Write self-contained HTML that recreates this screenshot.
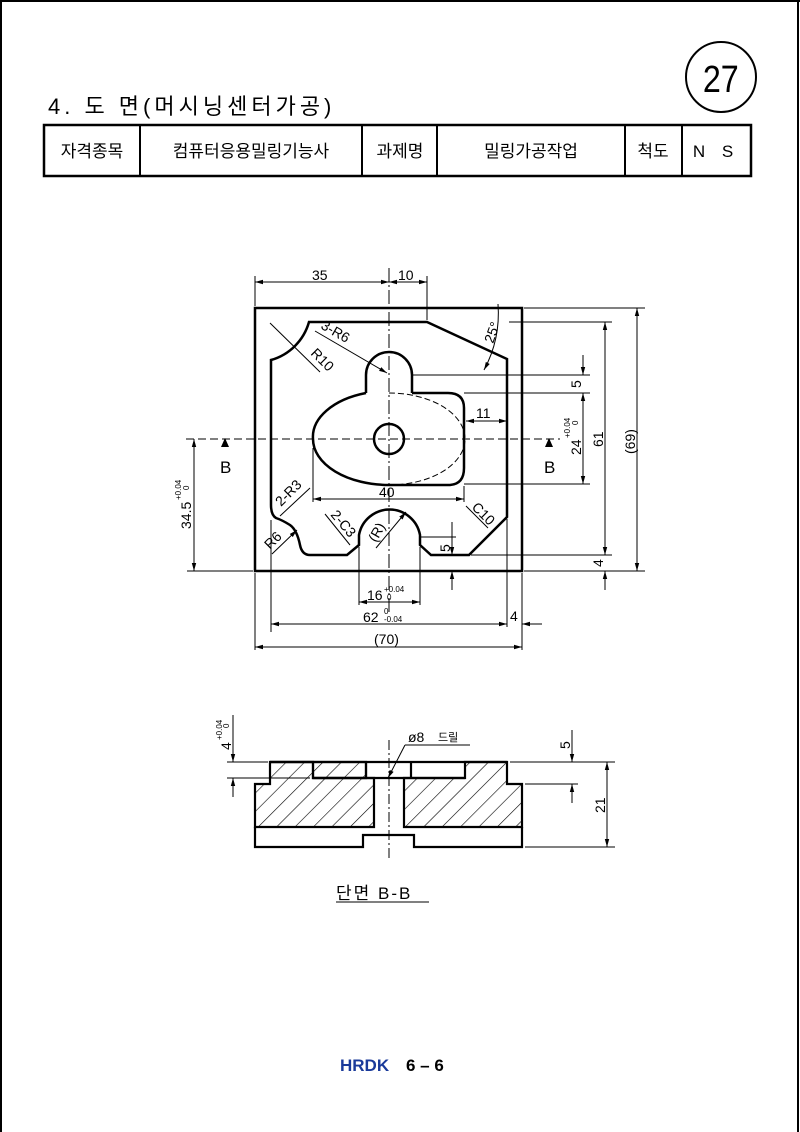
<!DOCTYPE html>
<html><head><meta charset="utf-8"><style>
html,body{margin:0;padding:0;background:#fff}
svg{display:block}
text{font-family:"Liberation Sans","Noto Sans CJK KR",sans-serif;fill:#000}
</style></head><body>
<svg width="800" height="1132" viewBox="0 0 800 1132" xmlns="http://www.w3.org/2000/svg">
<defs>
<pattern id="h" width="13" height="13" patternUnits="userSpaceOnUse" patternTransform="rotate(45)">
<line x1="0" y1="0" x2="0" y2="13" stroke="#000" stroke-width="1.2"/>
</pattern>
<marker id="a" markerWidth="8" markerHeight="6" refX="8" refY="3" orient="auto-start-reverse" markerUnits="userSpaceOnUse"><path d="M0,0.8 L8,3 L0,5.2z" fill="#000"/></marker>
</defs>
<line x1="1" y1="0" x2="1" y2="1132" stroke="#000" stroke-width="2"/>
<line x1="798" y1="0" x2="798" y2="1132" stroke="#000" stroke-width="2"/>
<line x1="0" y1="1" x2="800" y2="1" stroke="#000" stroke-width="2"/>

<circle cx="721" cy="77" r="35" fill="none" stroke="#000" stroke-width="2"/>
<text x="721" y="92" font-size="38" text-anchor="middle" transform="scale(0.85,1) translate(127,0)">27</text>
<text x="48" y="114" font-size="22" letter-spacing="4">4. 도 면(머시닝센터가공)</text>
<rect x="44" y="125" width="707" height="51" fill="none" stroke="#000" stroke-width="2.5"/>
<g stroke="#000" stroke-width="2"><line x1="140" y1="125" x2="140" y2="176"/><line x1="362" y1="125" x2="362" y2="176"/><line x1="437" y1="125" x2="437" y2="176"/><line x1="625" y1="125" x2="625" y2="176"/><line x1="682" y1="125" x2="682" y2="176"/></g>
<g font-size="17" text-anchor="middle">
<text x="92" y="157">자격종목</text><text x="251" y="157">컴퓨터응용밀링기능사</text><text x="400" y="157">과제명</text><text x="531" y="157">밀링가공작업</text><text x="653" y="157">척도</text><text x="716" y="157" letter-spacing="6">N S</text>
</g>

<g fill="none" stroke="#000">
<rect x="255" y="308" width="267" height="263" stroke-width="2.5"/>
<path d="M271,360 A55,55 0 0 0 309,322 L427,322 L507,359 L507,517 L469,555 L431,555 L420,545 L420,535 A31,31 0 0 0 359,535 L359,545 L347,555 L310,555 Q302,555 300,545 Q297,530 290,525 Q282,520 276,518 Q271,515 271,505 Z" stroke-width="2.5"/>
<path d="M412,393 L412,375 A23,23 0 0 0 366,375 L366,393" stroke-width="2.5"/>
<path d="M366,393 A76,46 0 0 0 313,439 A76,46 0 0 0 389,485 L450,485 Q464,484 464,468 L464,408 Q464,393 448,393 L412,393" stroke-width="2.5"/>
<path d="M389,393 A76,46 0 0 1 465,439 A76,46 0 0 1 389,485" stroke-width="1" stroke-dasharray="6,3"/>
<circle cx="389" cy="439" r="15" stroke-width="2.5"/>
<line x1="389" y1="268" x2="389" y2="612" stroke-width="1" stroke-dasharray="14,3,2,3"/>
<line x1="186" y1="439" x2="560" y2="439" stroke-width="1" stroke-dasharray="8,4"/>
</g>
<g stroke="#000" stroke-width="1.2"><line x1="225" y1="439" x2="225" y2="447"/><line x1="549" y1="439" x2="549" y2="447"/></g>
<path d="M221,447 L229,447 L225,438z M545,447 L553,447 L549,438z" fill="#000"/>
<text x="220" y="473" font-size="17">B</text><text x="544" y="473" font-size="17">B</text>

<g stroke="#000" stroke-width="1" fill="none">
<line x1="255" y1="276" x2="255" y2="306"/><line x1="427" y1="276" x2="427" y2="320"/>
<line x1="255" y1="282" x2="389" y2="282" marker-start="url(#a)" marker-end="url(#a)"/>
<line x1="389" y1="282" x2="427" y2="282" marker-start="url(#a)" marker-end="url(#a)"/>
<line x1="524" y1="308" x2="645" y2="308"/><line x1="509" y1="322" x2="612" y2="322"/>
<line x1="412" y1="375" x2="590" y2="375"/><line x1="464" y1="393" x2="590" y2="393"/>
<line x1="464" y1="484" x2="590" y2="484"/><line x1="471" y1="555" x2="612" y2="555"/>
<line x1="524" y1="571" x2="645" y2="571"/>
<line x1="637" y1="308" x2="637" y2="571" marker-start="url(#a)" marker-end="url(#a)"/>
<line x1="605" y1="322" x2="605" y2="555" marker-start="url(#a)" marker-end="url(#a)"/>
<line x1="583" y1="355" x2="583" y2="375" marker-end="url(#a)"/>
<line x1="583" y1="393" x2="583" y2="484" marker-start="url(#a)" marker-end="url(#a)"/>
<line x1="605" y1="571" x2="605" y2="590" marker-start="url(#a)"/>
<line x1="466" y1="421" x2="507" y2="421" marker-start="url(#a)" marker-end="url(#a)"/>
<line x1="313" y1="448" x2="313" y2="502"/><line x1="464" y1="486" x2="464" y2="502"/>
<line x1="313" y1="499" x2="464" y2="499" marker-start="url(#a)" marker-end="url(#a)"/>
<line x1="187" y1="571" x2="253" y2="571"/>
<line x1="194" y1="439" x2="194" y2="571" marker-start="url(#a)" marker-end="url(#a)"/>
<line x1="359" y1="547" x2="359" y2="605"/><line x1="420" y1="547" x2="420" y2="605"/>
<line x1="359" y1="602" x2="420" y2="602" marker-start="url(#a)" marker-end="url(#a)"/>
<line x1="420" y1="537" x2="456" y2="537"/>
<line x1="452" y1="522" x2="452" y2="555" marker-end="url(#a)"/><line x1="452" y1="571" x2="452" y2="590" marker-start="url(#a)"/>
<line x1="271" y1="520" x2="271" y2="632"/><line x1="507" y1="519" x2="507" y2="627"/><line x1="522" y1="573" x2="522" y2="650"/><line x1="255" y1="573" x2="255" y2="650"/>
<line x1="271" y1="624" x2="507" y2="624" marker-start="url(#a)" marker-end="url(#a)"/>
<line x1="522" y1="624" x2="542" y2="624" marker-start="url(#a)"/>
<line x1="255" y1="647" x2="522" y2="647" marker-start="url(#a)" marker-end="url(#a)"/>
<line x1="270" y1="323" x2="320" y2="372"/>
<line x1="315" y1="331" x2="387" y2="373" marker-end="url(#a)"/>
<line x1="272" y1="554" x2="297" y2="530" marker-end="url(#a)"/>
<line x1="280" y1="516" x2="310" y2="488"/>
<line x1="325" y1="514" x2="350" y2="545"/>
<line x1="466" y1="506" x2="488" y2="528"/>
<line x1="376" y1="548" x2="406" y2="512" marker-end="url(#a)"/>
<path d="M498,304 A120,120 0 0 1 484,370" marker-end="url(#a)"/>
</g>
<g font-size="14">
<text x="312" y="280">35</text><text x="398" y="280">10</text>
<text x="476" y="418">11</text><text x="379" y="497">40</text>
<text x="367" y="600">16</text><text x="384" y="592" font-size="8">+0.04</text><text x="387" y="600" font-size="8">0</text>
<text x="363" y="622">62</text><text x="384" y="614" font-size="8">0</text><text x="384" y="622" font-size="8">-0.04</text>
<text x="510" y="621">4</text><text x="374" y="644">(70)</text>
<text transform="translate(581,388) rotate(-90)">5</text>
<text transform="translate(581,455) rotate(-90)">24</text><text transform="translate(570,438) rotate(-90)" font-size="8">+0.04</text><text transform="translate(578,425) rotate(-90)" font-size="8">0</text>
<text transform="translate(603,447) rotate(-90)">61</text>
<text transform="translate(635,454) rotate(-90)">(69)</text>
<text transform="translate(603,567) rotate(-90)">4</text>
<text transform="translate(450,552) rotate(-90)">5</text>
<text transform="translate(191,529) rotate(-90)">34.5</text><text transform="translate(181,500) rotate(-90)" font-size="8">+0.04</text><text transform="translate(189,490) rotate(-90)" font-size="8">0</text>
<text transform="translate(320,328) rotate(30)">3-R6</text>
<text transform="translate(310,354) rotate(45)">R10</text>
<text transform="translate(493,344) rotate(-70)">25°</text>
<text transform="translate(281,507) rotate(-45)">2-R3</text>
<text transform="translate(270,550) rotate(-45)">R6</text>
<text transform="translate(330,515) rotate(50)">2-C3</text>
<text transform="translate(471,508) rotate(45)">C10</text>
<text transform="translate(376,543) rotate(-60)">(R)</text>
</g>

<g stroke="#000" stroke-width="2.2">
<path d="M270,762 L313,762 L313,778 L366,778 L366,762 L270,762 Z" fill="url(#h)"/>
<path d="M270,762 L270,784 L255,784 L255,827 L374,827 L374,778 L313,778 L313,762 Z" fill="url(#h)"/>
<path d="M507,762 L465,762 L465,778 L404,778 L404,827 L522,827 L522,784 L507,784 Z" fill="url(#h)"/>
<path d="M255,827 L255,847 L363,847 L363,835 L414,835 L414,847 L522,847 L522,827" fill="none"/>
<path d="M270,762 L507,762 M313,778 L465,778 M366,762 L366,778 M411,762 L411,778" fill="none"/>
</g>
<g stroke="#000" stroke-width="1" fill="none">
<line x1="389" y1="740" x2="389" y2="858" stroke-dasharray="10,3,2,3"/>
<line x1="227" y1="762" x2="268" y2="762"/><line x1="227" y1="778" x2="310" y2="778"/>
<line x1="233" y1="715" x2="233" y2="762" marker-end="url(#a)"/><line x1="233" y1="778" x2="233" y2="797" marker-start="url(#a)"/>
<line x1="510" y1="762" x2="615" y2="762"/><line x1="525" y1="784" x2="578" y2="784"/><line x1="525" y1="847" x2="615" y2="847"/>
<line x1="572" y1="730" x2="572" y2="762" marker-end="url(#a)"/><line x1="572" y1="784" x2="572" y2="803" marker-start="url(#a)"/>
<line x1="607" y1="762" x2="607" y2="847" marker-start="url(#a)" marker-end="url(#a)"/>
<line x1="388" y1="778" x2="405" y2="745" marker-start="url(#a)"/><line x1="405" y1="745" x2="470" y2="745"/>
<line x1="336" y1="902" x2="429" y2="902"/>
</g>
<g font-size="14">
<text x="408" y="742">ø8</text><text x="438" y="741" font-size="11">드릴</text>
<text transform="translate(231,750) rotate(-90)">4</text><text transform="translate(222,740) rotate(-90)" font-size="8">+0.04</text><text transform="translate(229,728) rotate(-90)" font-size="8">0</text>
<text transform="translate(570,749) rotate(-90)">5</text>
<text transform="translate(605,813) rotate(-90)">21</text>
<text x="336" y="899" font-size="17" letter-spacing="2">단면 B-B</text>
</g>
<text x="340" y="1071" font-size="17" font-weight="bold" style="fill:#1a3a9a">HRDK</text>
<text x="406" y="1071" font-size="17" font-weight="bold">6 – 6</text>
</svg>
</body></html>
